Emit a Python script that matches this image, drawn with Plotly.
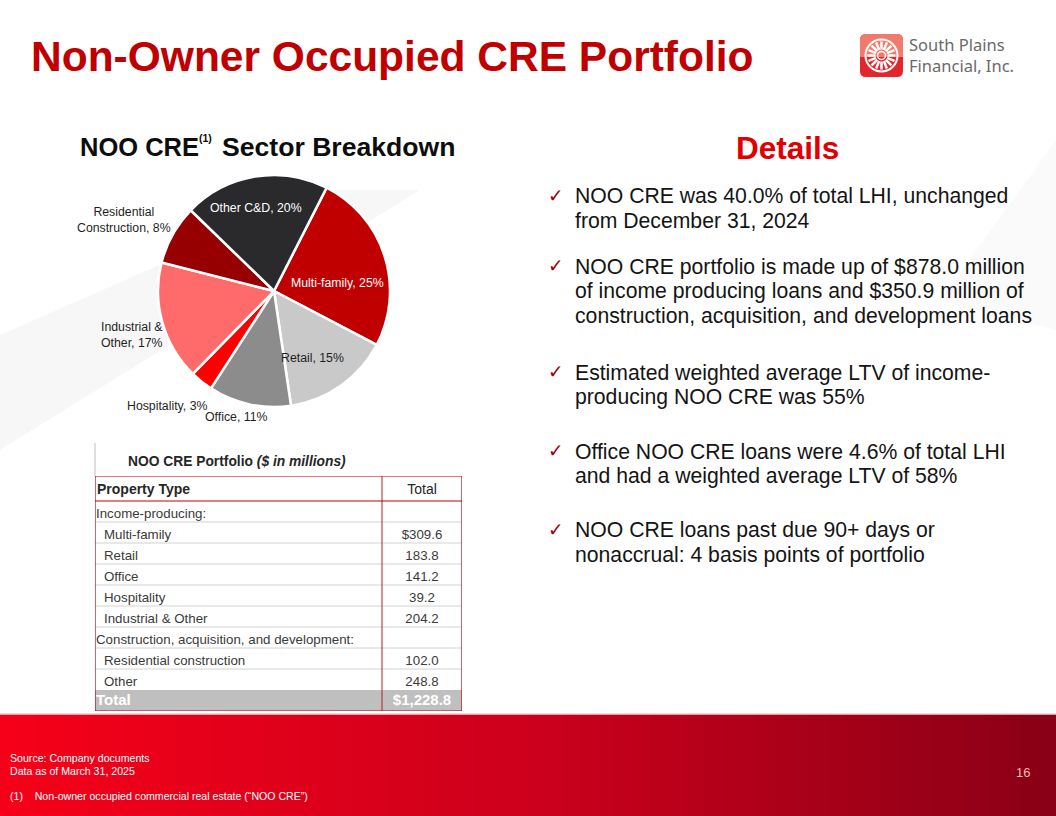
import math
import plotly.graph_objects as go

W, H = 1056, 816

# ---------------- data ----------------
categories = ["Multi-family", "Retail", "Office", "Hospitality", "Industrial &amp; Other",
              "Residential construction", "Other"]
pie_labels = ["Multi-family", "Retail", "Office", "Hospitality", "Industrial &amp;<br>Other",
              "Residential<br>Construction", "Other C&amp;D"]
values = [309.6, 183.8, 141.2, 39.2, 204.2, 102.0, 248.8]
slice_colors = ["#C00000", "#C9C9C9", "#8C8C8C", "#FF0000", "#FF6B6B", "#960000", "#2A2A2C"]
label_colors = ["#FFFFFF", "#1F1F1F", "#1F1F1F", "#1F1F1F", "#1F1F1F", "#1F1F1F", "#FFFFFF"]

table_header = ["Property Type", "Total"]
group_income = "Income-producing:"
group_cad = "Construction, acquisition, and development:"
n_income = 5

bullets = [
    ["NOO CRE was 40.0% of total LHI, unchanged", "from December 31, 2024"],
    ["NOO CRE portfolio is made up of $878.0 million",
     "of income producing loans and $350.9 million of",
     "construction, acquisition, and development loans"],
    ["Estimated weighted average LTV of income-", "producing NOO CRE was 55%"],
    ["Office NOO CRE loans were 4.6% of total LHI", "and had a weighted average LTV of 58%"],
    ["NOO CRE loans past due 90+ days or", "nonaccrual: 4 basis points of portfolio"],
]

# ---------------- layout helpers ----------------
bullet_tops = [196, 267, 373, 451, 530]
label_xy = [(337, 283), (312, 358), (236, 417), (167, 406), (132, 335), (124, 220), (256, 208)]

TB_X0, TB_X1, TB_COL = 95, 462, 382      # table frame (px)
TB_Y0, HEAD_H, ROW_H = 476, 25, 21       # table top, header / row heights (px)


def px(x):
    return x / W


def py(y):
    return 1 - y / H


FONT = "Liberation Sans, Arial, sans-serif"

fig = go.Figure()

# ---------------- pie ----------------
fig.add_trace(go.Pie(
    labels=pie_labels, values=values, sort=False, direction="clockwise", rotation=27,
    marker=dict(colors=slice_colors, line=dict(color="#FFFFFF", width=2.5)),
    textinfo="none", hoverinfo="none", showlegend=False,
    domain=dict(x=[px(158), px(390)], y=[py(407), py(175)]),
))

# ---------------- table (text trace on a hidden pixel-like axis pair) ----------------
def fmt(v, first=False):
    s = f"{v:,.1f}"
    return "$" + s if first else s

def big(s):
    return "<span style='font-size:15px'><b>" + s + "</b></span>"

rows_left = [group_income] + categories[:n_income] + [group_cad] + categories[n_income:] + [big("Total")]
indent = [0] + [1] * n_income + [0] + [1] * (len(categories) - n_income) + [0]
rows_right = [""] + [fmt(v, i == 0) for i, v in enumerate(values[:n_income])] + [""] + \
             [fmt(v) for v in values[n_income:]] + [big(fmt(sum(values), True))]
nrows = len(rows_left)
tb_w = TB_X1 - TB_X0
tb_h = HEAD_H + ROW_H * nrows
row_mid = [HEAD_H + ROW_H * (i + 0.5) + 3 for i in range(nrows)]
row_mid[-1] -= 2
row_col = ["#3A3A3A"] * (nrows - 1) + ["#FFFFFF"]
col2_mid = (TB_COL - TB_X0 + tb_w) / 2

fig.add_trace(go.Scatter(
    x=[1 + 8 * k for k in indent], y=row_mid, text=rows_left, mode="text",
    textposition="middle right", textfont=dict(family=FONT, size=13.3, color=row_col),
    xaxis="x2", yaxis="y2", hoverinfo="none", showlegend=False, cliponaxis=False))
fig.add_trace(go.Scatter(
    x=[col2_mid] * nrows, y=row_mid, text=rows_right, mode="text",
    textposition="middle center", textfont=dict(family=FONT, size=13.3, color=row_col),
    xaxis="x2", yaxis="y2", hoverinfo="none", showlegend=False, cliponaxis=False))
fig.add_trace(go.Scatter(
    x=[2, col2_mid], y=[HEAD_H / 2 + 1.5] * 2,
    text=["<b>" + table_header[0] + "</b>", table_header[1]], mode="text",
    textposition=["middle right", "middle center"],
    textfont=dict(family=FONT, size=14, color="#262626"),
    xaxis="x2", yaxis="y2", hoverinfo="none", showlegend=False, cliponaxis=False))

shapes = []
# faint background shading
shapes.append(dict(type="path", xref="paper", yref="paper", layer="below",
                   path=f"M 0 {py(335)} L {px(330)} {py(190)} L {px(420)} {py(190)} L 0 {py(450)} Z",
                   fillcolor="rgba(0,0,0,0.03)", line=dict(width=0)))
shapes.append(dict(type="path", xref="paper", yref="paper", layer="below",
                   path=f"M {px(940)} {py(300)} L {px(1056)} {py(140)} L {px(1056)} {py(330)} Z",
                   fillcolor="rgba(0,0,0,0.02)", line=dict(width=0)))

# footer gradient band
n_strips = 60
c0, c1, c2 = (245, 0, 24), (205, 0, 28), (138, 0, 22)
for i in range(n_strips):
    t = i / (n_strips - 1)
    if t < 0.5:
        a, b, u = c0, c1, t / 0.5
    else:
        a, b, u = c1, c2, (t - 0.5) / 0.5
    col = "rgb(%d,%d,%d)" % tuple(round(a[k] + (b[k] - a[k]) * u) for k in range(3))
    shapes.append(dict(type="rect", xref="paper", yref="paper",
                       x0=i / n_strips, x1=(i + 1) / n_strips + 0.002,
                       y0=0, y1=py(714), fillcolor=col, line=dict(width=0), layer="below"))
shapes.append(dict(type="line", xref="paper", yref="paper", x0=0, x1=1, y0=py(714), y1=py(714),
                   line=dict(color="#F3D0D0", width=1.5), layer="below"))

# table body: white fill, total row fill, row rules, frame
shapes.append(dict(type="rect", xref="x2", yref="y2", x0=0, x1=tb_w, y0=0, y1=tb_h,
                   fillcolor="#FFFFFF", line=dict(width=0), layer="below"))
shapes.append(dict(type="rect", xref="x2", yref="y2", x0=0, x1=tb_w,
                   y0=HEAD_H + ROW_H * (nrows - 1), y1=tb_h,
                   fillcolor="#BFBFBF", line=dict(width=0), layer="below"))
for i in range(1, nrows - 1):
    yy = HEAD_H + ROW_H * i
    shapes.append(dict(type="line", xref="x2", yref="y2", x0=0, x1=tb_w, y0=yy, y1=yy,
                       line=dict(color="#D2D2D2", width=1), layer="below"))
shapes.append(dict(type="rect", xref="x2", yref="y2", x0=0, x1=tb_w, y0=0, y1=tb_h,
                   line=dict(color="#C00000", width=1.2), layer="above"))
shapes.append(dict(type="line", xref="x2", yref="y2", x0=TB_COL - TB_X0, x1=TB_COL - TB_X0,
                   y0=0, y1=tb_h, line=dict(color="#B02020", width=1), layer="above"))
shapes.append(dict(type="line", xref="x2", yref="y2", x0=0, x1=tb_w, y0=HEAD_H, y1=HEAD_H,
                   line=dict(color="#C00000", width=1), layer="above"))
shapes.append(dict(type="line", xref="paper", yref="paper", x0=px(95), x1=px(95),
                   y0=py(476), y1=py(443), line=dict(color="#BFBFBF", width=1), layer="above"))

# logo
lx0, ly0, lx1, ly1, r = 860, 34, 903, 77, 6
def rr_path(x0, y0, x1, y1, r):
    return (f"M {px(x0+r)} {py(y0)} L {px(x1-r)} {py(y0)} Q {px(x1)} {py(y0)} {px(x1)} {py(y0+r)} "
            f"L {px(x1)} {py(y1-r)} Q {px(x1)} {py(y1)} {px(x1-r)} {py(y1)} "
            f"L {px(x0+r)} {py(y1)} Q {px(x0)} {py(y1)} {px(x0)} {py(y1-r)} "
            f"L {px(x0)} {py(y0+r)} Q {px(x0)} {py(y0)} {px(x0+r)} {py(y0)} Z")
shapes.append(dict(type="path", xref="paper", yref="paper", path=rr_path(lx0, ly0, lx1, ly1, r),
                   fillcolor="#E3262C", line=dict(width=0)))
shapes.append(dict(type="path", xref="paper", yref="paper",
                   path=(f"M {px(lx0+r)} {py(ly0)} L {px(lx1-r)} {py(ly0)} Q {px(lx1)} {py(ly0)} {px(lx1)} {py(ly0+r)} "
                         f"L {px(lx1)} {py(57)} L {px(lx0)} {py(57)} L {px(lx0)} {py(ly0+r)} "
                         f"Q {px(lx0)} {py(ly0)} {px(lx0+r)} {py(ly0)} Z"),
                   fillcolor="#F07A6C", line=dict(width=0)))
cx, cy = 881.5, 55.5
shapes.append(dict(type="circle", xref="paper", yref="paper", x0=px(cx-16), x1=px(cx+16),
                   y0=py(cy+16), y1=py(cy-16), line=dict(color="#FFFFFF", width=2)))
shapes.append(dict(type="circle", xref="paper", yref="paper", x0=px(cx-4), x1=px(cx+4),
                   y0=py(cy+4), y1=py(cy-4), line=dict(color="#FFFFFF", width=1.5)))
for k in range(16):
    ang = 2 * math.pi * k / 16
    shapes.append(dict(type="line", xref="paper", yref="paper",
                       x0=px(cx + 6 * math.cos(ang)), y0=py(cy + 6 * math.sin(ang)),
                       x1=px(cx + 14 * math.cos(ang)), y1=py(cy + 14 * math.sin(ang)),
                       line=dict(color="#FFFFFF", width=2.5)))

ann = []
def text(x, y, s, size, color="#1A1A1A", family=FONT, anchor="left", yanchor="middle"):
    ann.append(dict(x=px(x), y=py(y), xref="paper", yref="paper", text=s, showarrow=False,
                    xanchor=anchor, yanchor=yanchor, align=anchor if anchor != "center" else "center",
                    borderpad=0,
                    font=dict(size=size, color=color, family=family)))

# pie labels (text built from the data)
total = sum(values)
for lab, v, c, (lx, ly) in zip(pie_labels, values, label_colors, label_xy):
    text(lx, ly, f"{lab}, {round(v / total * 100):.0f}%", 12.3, c, anchor="center")

text(30, 57, "<b>Non-Owner Occupied CRE Portfolio</b>", 42.5, "#C00000")
text(79, 147, "<b>NOO CRE</b>", 25.5, "#0D0D0D")
text(198, 138, "<b>(1)</b>", 10.5, "#0D0D0D")
text(221, 147, "<b>Sector Breakdown</b>", 26.6, "#0D0D0D")
text(787, 148, "<b>Details</b>", 31.5, "#E00000", anchor="center")
text(908, 55.5, "South Plains<br>Financial, Inc.", 16.5, "#6A6A6A",
     family="Noto Sans, Open Sans, sans-serif")
text(127, 461, "<b>NOO CRE Portfolio <i>($ in millions)</i></b>", 13.8, "#262626")

for lines, top in zip(bullets, bullet_tops):
    text(547, top - 1, "\u2713", 18.5, "#A00000", family="DejaVu Sans, sans-serif")
    for j, ln in enumerate(lines):
        text(574, top + j * 24.5, ln, 21.2, "#141414")

text(9, 758, "Source: Company documents", 10.6, "#FFFFFF")
text(9, 771, "Data as of March 31, 2025", 10.6, "#FFFFFF")
text(9, 796, "(1)\u00a0\u00a0\u00a0\u00a0Non-owner occupied commercial real estate (\u201cNOO CRE\u201d)", 10.6, "#FFFFFF")
text(1031, 772, "16", 13, "#F4B8B8", anchor="right")

fig.update_layout(
    width=W, height=H, margin=dict(l=0, r=0, t=0, b=0),
    paper_bgcolor="#FFFFFF", plot_bgcolor="rgba(0,0,0,0)",
    shapes=shapes, annotations=ann, showlegend=False,
    xaxis=dict(visible=False), yaxis=dict(visible=False),
    xaxis2=dict(visible=False, domain=[px(TB_X0), px(TB_X1)], range=[0, tb_w],
                anchor="y2", fixedrange=True),
    yaxis2=dict(visible=False, domain=[py(TB_Y0 + tb_h), py(TB_Y0)], range=[tb_h, 0],
                anchor="x2", fixedrange=True),
)

fig.write_html("out.html", config={"displayModeBar": False},
               post_script="document.body.style.margin='0';document.body.style.padding='0';")
